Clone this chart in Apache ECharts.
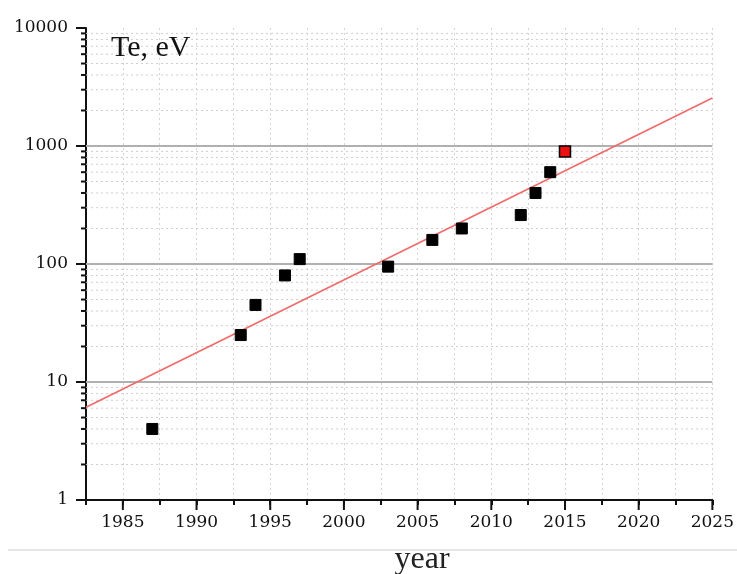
<!DOCTYPE html>
<html>
<head>
<meta charset="utf-8">
<script src="https://cdn.jsdelivr.net/npm/echarts@6/dist/echarts.min.js"></script>
<style>html,body{margin:0;padding:0;background:#fff;}#c{width:737px;height:574px;}</style>
</head>
<body>
<div id="c"></div>
<script>
// ---- data ----
const years = [1987, 1993, 1994, 1996, 1997, 2003, 2006, 2008, 2012, 2013, 2014];
const te = [4, 25, 45, 80, 110, 95, 160, 200, 260, 400, 600];
const highlightYears = [2015];
const highlightTe = [900];
const fitYears = [1982.5, 2025];
const fitTe = [6.1, 2550];
const xMin = 1982.5, xMax = 2025;
const yMin = 1, yMax = 10000;
const xMajorTicks = [1985, 1990, 1995, 2000, 2005, 2010, 2015, 2020, 2025];
const yMajorGrid = [10, 100, 1000];
const yMinorMultipliers = [2, 3, 4, 5, 6, 7, 8, 9];
const yDecades = [1, 10, 100, 1000];
const yLabel = 'Te, eV';
const xLabel = 'year';

const chart = echarts.init(document.getElementById('c'), null, {renderer: 'canvas'});

const scatterData = years.map((y, i) => [y, te[i]]);
const highlightData = highlightYears.map((y, i) => [y, highlightTe[i]]);
const fitData = fitYears.map((y, i) => [y, fitTe[i]]);

function renderDecor(params, api) {
  const children = [];
  const left = api.coord([xMin, yMin])[0];
  const right = api.coord([xMax, yMin])[0];
  const bottom = api.coord([xMin, yMin])[1];
  yDecades.forEach(d => {
    yMinorMultipliers.forEach(m => {
      const y = api.coord([xMin, m * d])[1];
      children.push({type: 'line', shape: {x1: left, y1: y, x2: right, y2: y},
        style: {stroke: '#cfcfcf', lineWidth: 1, lineDash: [2, 3]}});
      children.push({type: 'line', shape: {x1: left - 5, y1: y, x2: left, y2: y},
        style: {stroke: '#111', lineWidth: 2}});
    });
  });
  yMajorGrid.forEach(v => {
    const y = api.coord([xMin, v])[1];
    children.push({type: 'line', shape: {x1: left, y1: y, x2: right, y2: y},
      style: {stroke: '#b0b0b0', lineWidth: 1.8}});
  });
  xMajorTicks.forEach(v => {
    const x = api.coord([v, yMin])[0];
    children.push({type: 'line', shape: {x1: x, y1: bottom, x2: x, y2: bottom + 10},
      style: {stroke: '#111', lineWidth: 2}});
  });
  return {type: 'group', children: children};
}

const labelFont = {color: '#111', fontFamily: 'DejaVu Serif', fontSize: 17, fontWeight: 500};

const option = {
  animation: false,
  backgroundColor: '#fff',
  grid: {left: 86, right: 23, top: 28, bottom: 74, containLabel: false},
  xAxis: {
    type: 'value', min: xMin, max: xMax, interval: 2.5,
    axisLine: {show: true, onZero: false, lineStyle: {color: '#111', width: 2}},
    axisTick: {show: true, length: 5, lineStyle: {color: '#111', width: 2}},
    axisLabel: Object.assign({
      margin: 14,
      formatter: v => (Math.abs(v % 5) < 1e-6 ? String(Math.round(v)) : '')
    }, labelFont),
    splitLine: {show: true, lineStyle: {color: '#d4d4d4', width: 1, type: [2, 3]}}
  },
  yAxis: {
    type: 'log', logBase: 10, min: yMin, max: yMax,
    axisLine: {show: true, lineStyle: {color: '#111', width: 2}},
    axisTick: {show: true, length: 10, lineStyle: {color: '#111', width: 2}},
    axisLabel: Object.assign({
      margin: 18,
      formatter: v => String(Math.round(v))
    }, labelFont),
    splitLine: {show: false}
  },
  graphic: [
    {type: 'text', left: 111, top: 33, z: 10, style: {text: yLabel, fontFamily: 'Liberation Serif', fontSize: 30, fill: '#111'}},
    {type: 'line', z: 10, shape: {x1: 8, y1: 550, x2: 737, y2: 550}, style: {stroke: '#dcdcdc', lineWidth: 1.5}},
    {type: 'text', z: 10, x: 422, y: 560, style: {text: xLabel, fontFamily: 'Liberation Serif', fontSize: 32, fill: '#222', align: 'center', verticalAlign: 'middle'}}
  ],
  series: [
    {type: 'custom', coordinateSystem: 'cartesian2d', renderItem: renderDecor, data: [[xMin, yMin]], z: 1, silent: true, clip: false},
    {type: 'line', data: fitData, showSymbol: false, symbol: 'none', lineStyle: {color: '#f06a6a', width: 1.6}, z: 3, silent: true},
    {type: 'scatter', data: scatterData, symbol: 'rect', symbolSize: 11,
      itemStyle: {color: '#000', borderColor: '#000', borderWidth: 1, opacity: 1}, z: 4},
    {type: 'scatter', data: highlightData, symbol: 'rect', symbolSize: 11,
      itemStyle: {color: '#ee1111', borderColor: '#000', borderWidth: 1.5, opacity: 1}, z: 5}
  ]
};
chart.setOption(option);
</script>
</body>
</html>
